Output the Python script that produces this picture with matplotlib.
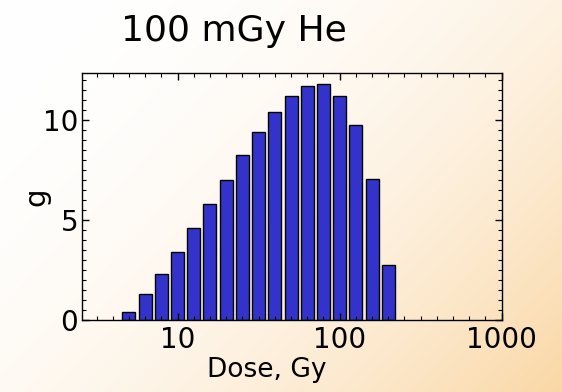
import numpy as np
import matplotlib
matplotlib.use("Agg")
import matplotlib.pyplot as plt

# dose bins (Gy) and frequency g
dose = [5.0, 6.3, 7.9, 10.0, 12.6, 15.8, 20.0, 25.1, 31.6, 39.8,
        50.1, 63.1, 79.4, 100.0, 125.9, 158.5, 199.5]
g = [0.38, 1.30, 2.28, 3.38, 4.58, 5.78, 7.02, 8.25, 9.40, 10.38,
     11.22, 11.72, 11.78, 11.18, 9.73, 7.07, 2.73]

xticks = [10, 100, 1000]
xlabels = ["10", "100", "1000"]
yticks = [0, 5, 10]

plt.rcParams["font.family"] = ["DejaVu Sans"]

fig = plt.figure(figsize=(5.62, 3.92), dpi=100)

# background gradient, white top-left to peach bottom-right
h, w = 392, 562
yy, xx = np.mgrid[0:h, 0:w]
t = (xx / w) * 0.6 + (yy / h) * 0.4
t = t ** 2.2
white = np.array([1.0, 1.0, 1.0])
peach = np.array([250, 215, 165]) / 255
img = white * (1 - t[..., None]) + peach * t[..., None]
bg = fig.add_axes([0, 0, 1, 1], zorder=-1)
bg.imshow(img, aspect="auto", extent=[0, 1, 0, 1])
bg.axis("off")

ax = fig.add_axes([0.1464, 0.1837, 0.7463, 0.6293])
ax.patch.set_alpha(0)
ax.set_xscale("log")

d = np.array(dose)
left = d * 10 ** -0.04
right = d * 10 ** 0.04
ax.bar(left, g, width=right - left, align="edge",
       color="#3333cc", edgecolor="black", linewidth=1.0)

ax.set_xlim(10 ** 0.411, 1000)
ax.set_ylim(0, 12.33)

ax.set_xticks(xticks)
ax.set_xticklabels(xlabels)
ax.set_xticks(10 ** (np.arange(5, 30) / 10), minor=True)
ax.set_xticklabels([], minor=True)
ax.set_yticks(yticks)
ax.set_yticks(np.arange(0, 12.5, 0.5), minor=True)

ax.tick_params(which="both", direction="in", top=True, right=True,
               labelsize=20)
ax.tick_params(which="major", length=5, width=1)
ax.tick_params(which="minor", length=3, width=0.8)
ax.tick_params(axis="x", pad=4)
ax.tick_params(axis="y", pad=3)

for s in ax.spines.values():
    s.set_linewidth(1.0)

ax.set_xlabel("Dose, Gy", fontsize=19)
ax.xaxis.set_label_coords(0.44, -0.15)
ax.set_ylabel("g", fontsize=21)
ax.yaxis.set_label_coords(-0.075, 0.5)

fig.text(233.5 / 562, 1 - 40.7 / 392, "100 mGy He", fontsize=26,
         ha="center", va="baseline")

fig.savefig("out.png", dpi=100)
